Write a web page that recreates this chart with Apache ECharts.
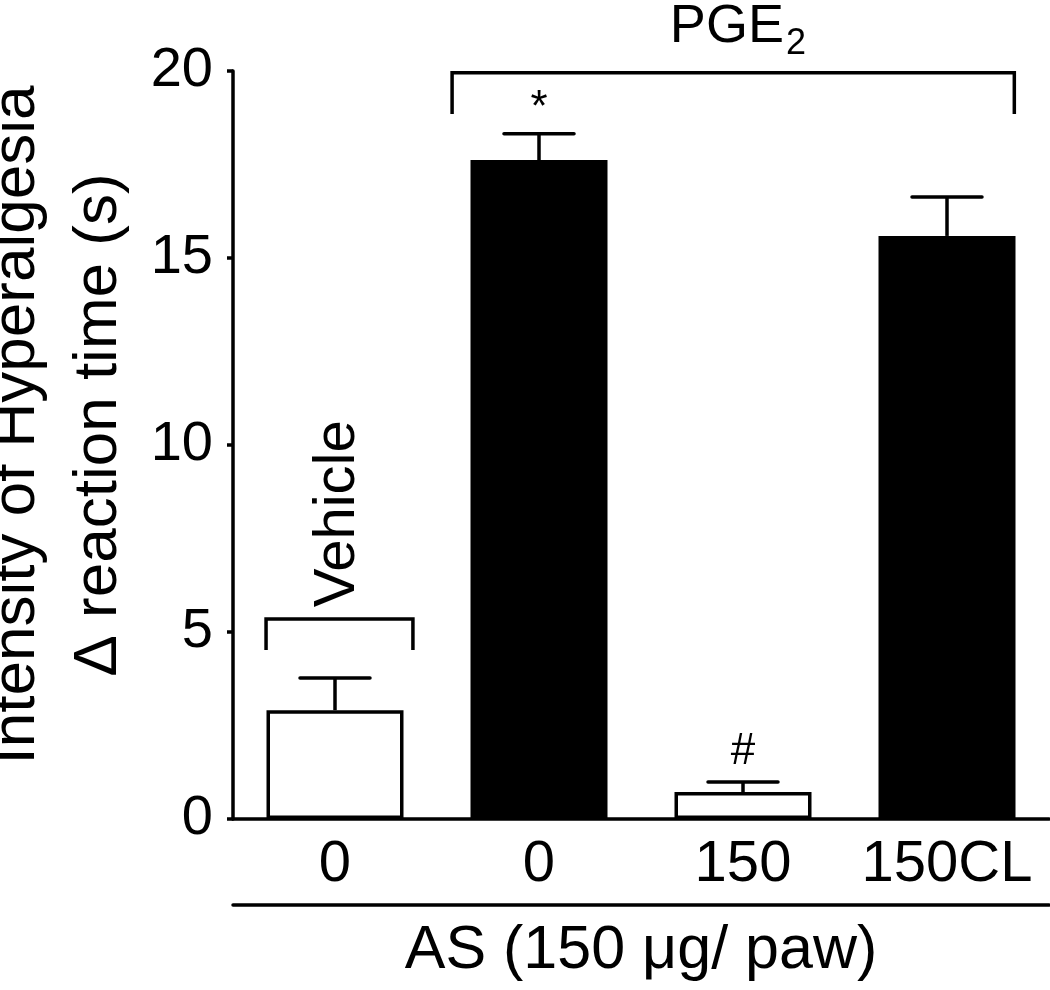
<!DOCTYPE html>
<html>
<head>
<meta charset="utf-8">
<style>
  html, body { margin: 0; padding: 0; background: #fff; }
  #chart { width: 1050px; height: 990px; }
</style>
<script src="https://cdn.jsdelivr.net/npm/echarts@6/dist/echarts.min.js"></script>
</head>
<body>
<div id="chart"></div>
<script>
// ---- data ----
const categories = ['0', '0', '150', '150CL'];
const means = [2.91, 17.62, 0.72, 15.59];
const upperErr = [3.77, 18.32, 0.99, 16.63];
const barFills = ['#ffffff', '#000000', '#ffffff', '#000000'];
const yMin = 0, yMax = 20, yStep = 5;

// group brackets (x in category-index units, y in axis units)
const bracketLabels = ['Vehicle', 'PGE2'];
const bracketX1 = [-0.338, 0.574];
const bracketX2 = [0.382, 3.33];
const bracketTop = [5.35, 19.95];
const bracketTip = [4.52, 18.85];

// significance marks
const markText = ['*', '#'];
const markCat = [1, 2];
const markY = [19.0, 1.79];

const FONT = '"Liberation Sans", Arial, Helvetica, sans-serif';

const chart = echarts.init(document.getElementById('chart'), null, { renderer: 'canvas' });

const option = {
  backgroundColor: '#ffffff',
  animation: false,
  grid: { left: 233, right: 1, top: 71, bottom: 171, containLabel: false, outerBoundsMode: 'none' },
  xAxis: [
    {
      type: 'category',
      data: categories,
      position: 'bottom',
      axisLine: { show: true, onZero: false, lineStyle: { color: '#000', width: 3.5 } },
      axisTick: { show: false },
      axisLabel: { fontSize: 58, color: '#000', margin: 17, fontFamily: FONT, interval: 0, hideOverlap: false },
      splitLine: { show: false }
    },
    {
      type: 'value',
      min: -0.5, max: 3.5,
      position: 'bottom',
      offset: 86,
      axisLine: { show: true, onZero: false, lineStyle: { color: '#000', width: 3.5 } },
      axisTick: { show: false },
      axisLabel: { show: false },
      splitLine: { show: false },
      name: 'AS (150 \u03bcg/ paw)',
      nameLocation: 'middle',
      nameGap: 16,
      nameTextStyle: { fontSize: 61, color: '#000', fontFamily: FONT, verticalAlign: 'top' }
    }
  ],
  yAxis: {
    type: 'value',
    min: yMin, max: yMax, interval: yStep,
    axisLine: { show: true, onZero: false, lineStyle: { color: '#000', width: 3.5 } },
    axisTick: { show: true, length: 6, lineStyle: { color: '#000', width: 3.5 } },
    splitLine: { show: false },
    axisLabel: { fontSize: 56, color: '#000', margin: 20, fontFamily: FONT },
    name: 'Intensity of Hyperalgesia\n\u0394 reaction time (s)',
    nameLocation: 'middle',
    nameRotate: 90,
    nameGap: 77,
    nameTextStyle: { fontSize: 62, lineHeight: 82, color: '#000', fontFamily: FONT, padding: [0, 0, 0, 40] }
  },
  series: [
    {
      type: 'bar',
      xAxisIndex: 0,
      barWidth: 137,
      z: 2,
      data: means.map((v, i) => ({
        value: v,
        itemStyle: { color: barFills[i], borderColor: '#000', borderWidth: 3.5 }
      }))
    },
    {
      type: 'custom',
      xAxisIndex: 0,
      z: 3,
      data: categories.map((c, i) => [i, means[i], upperErr[i]]),
      encode: { x: 0, y: [1, 2] },
      renderItem: function (params, api) {
        const i = api.value(0);
        const base = api.coord([i, api.value(1)]);
        const top = api.coord([i, api.value(2)]);
        const hw = 35;
        return {
          type: 'group',
          children: [
            { type: 'line', shape: { x1: base[0], y1: base[1], x2: top[0], y2: top[1] },
              style: { stroke: '#000', lineWidth: 3.5 } },
            { type: 'line', shape: { x1: top[0] - hw, y1: top[1], x2: top[0] + hw, y2: top[1] },
              style: { stroke: '#000', lineWidth: 3.5, lineCap: 'round' } }
          ]
        };
      }
    },
    {
      type: 'custom',
      xAxisIndex: 1,
      z: 3,
      clip: false,
      data: bracketLabels.map((n, i) => [bracketX1[i], bracketX2[i], bracketTop[i], bracketTip[i]]),
      encode: { x: [0, 1], y: [2, 3] },
      renderItem: function (params, api) {
        const a = api.coord([api.value(0), api.value(3)]);
        const b = api.coord([api.value(0), api.value(2)]);
        const c = api.coord([api.value(1), api.value(2)]);
        const d = api.coord([api.value(1), api.value(3)]);
        return {
          type: 'polyline',
          shape: { points: [a, b, c, d] },
          style: { stroke: '#000', lineWidth: 3.5, fill: null, lineJoin: 'miter' }
        };
      }
    },
    {
      // group labels: Vehicle (rotated) and PGE2
      type: 'custom',
      xAxisIndex: 1,
      z: 4,
      clip: false,
      data: [[0.015, 8.16, 0], [1.975, 21.18, 1]],
      encode: { x: 0, y: 1 },
      renderItem: function (params, api) {
        const p = api.coord([api.value(0), api.value(1)]);
        const k = api.value(2);
        if (k === 0) {
          return {
            type: 'text', x: p[0], y: p[1], rotation: Math.PI / 2,
            style: { text: bracketLabels[0], fill: '#000', fontSize: 58, fontFamily: FONT,
                     align: 'center', verticalAlign: 'middle' }
          };
        }
        return {
          type: 'text', x: p[0], y: p[1],
          style: {
            text: '{m|PGE}{s|2}', fill: '#000', align: 'center', verticalAlign: 'middle',
            rich: {
              m: { fontSize: 54, fontFamily: FONT, fill: '#000', verticalAlign: 'top', lineHeight: 54 },
              s: { fontSize: 36, fontFamily: FONT, fill: '#000', verticalAlign: 'top', padding: [26, 0, 0, 2], lineHeight: 36 }
            }
          }
        };
      }
    },
    {
      type: 'custom',
      xAxisIndex: 0,
      z: 4,
      clip: false,
      data: markText.map((t, i) => [markCat[i], markY[i]]),
      encode: { x: 0, y: 1 },
      renderItem: function (params, api) {
        const p = api.coord([api.value(0), api.value(1)]);
        return {
          type: 'text', x: p[0], y: p[1],
          style: { text: markText[params.dataIndex], fill: '#000', fontSize: 44, fontFamily: FONT,
                   align: 'center', verticalAlign: 'middle' }
        };
      }
    }
  ]
};

chart.setOption(option);
</script>
</body>
</html>
